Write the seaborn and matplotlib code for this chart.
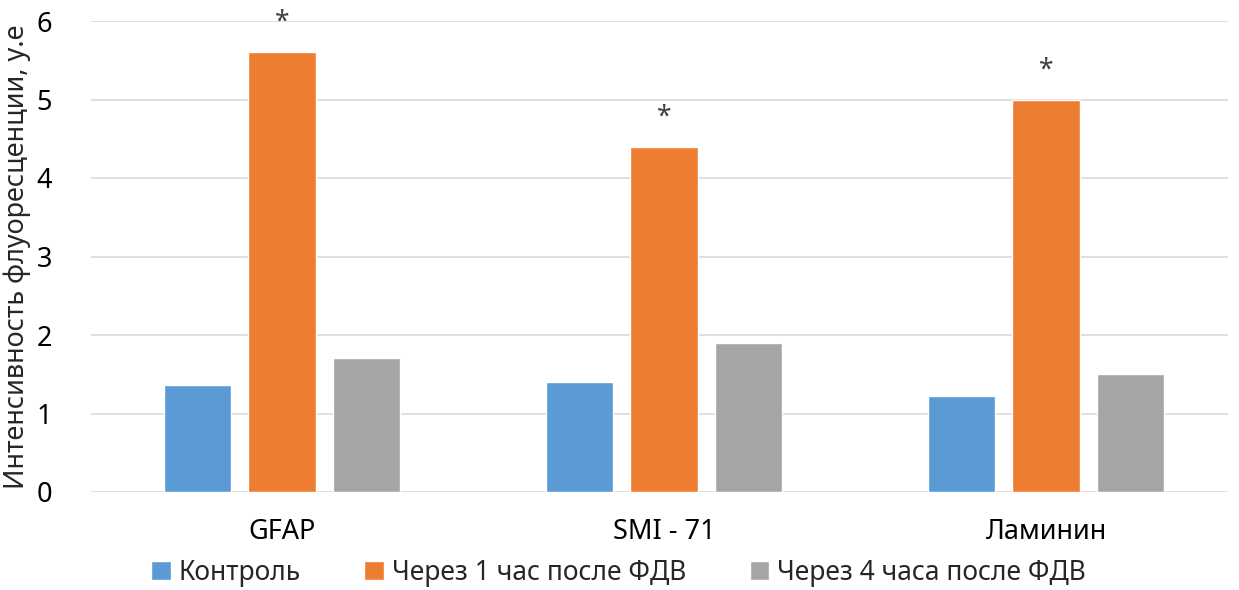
import pandas as pd
import matplotlib
matplotlib.use("Agg")
import matplotlib.pyplot as plt
import seaborn as sns

categories = ["GFAP", "SMI - 71", "Ламинин"]
series = ["Контроль", "Через 1 час после ФДВ", "Через 4 часа после ФДВ"]
control = [1.36, 1.40, 1.22]
after_1h = [5.60, 4.39, 5.00]
after_4h = [1.71, 1.90, 1.50]
stars = ["*", "*", "*"]

colors = ["#5B9BD5", "#ED7D31", "#A5A5A5"]

df = pd.DataFrame({
    "marker": categories * 3,
    "group": [s for s in series for _ in categories],
    "value": control + after_1h + after_4h,
})

sns.set_style("white")
plt.rcParams["font.family"] = ["Noto Sans", "DejaVu Sans"]

fig = plt.figure(figsize=(12.39, 5.90), dpi=100)
ax = fig.add_axes([91 / 1239, 98 / 590, 1137 / 1239, 471 / 590])

sns.barplot(data=df, x="marker", y="value", hue="group", hue_order=series,
            palette=colors, width=0.663, gap=0.2, saturation=1, ax=ax,
            errorbar=None)

ax.bar_label(ax.containers[1], labels=stars, padding=11, fontsize=19,
             color="#404040")

ax.set_xlim(-0.5, 2.476)
ax.set_ylim(0, 6)
ax.set_yticks(range(0, 7))
ax.yaxis.grid(True, color="#D9D9D9", linewidth=1.2)
ax.set_axisbelow(True)
for s in ax.spines.values():
    s.set_visible(False)
ax.tick_params(axis="both", length=0, colors="#000000")
ax.tick_params(axis="y", pad=28)
ax.tick_params(axis="x", pad=19)
ax.set_xlabel("")
ax.set_ylabel("Интенсивность флуоресценции, у.е", fontsize=19.5, labelpad=4)
for lbl in ax.get_xticklabels() + ax.get_yticklabels():
    lbl.set_fontsize(19.5)

ax.legend(loc="center", bbox_to_anchor=(0.464, -0.172), ncol=3,
          frameon=False, fontsize=19, handlelength=0.75, handleheight=0.75,
          handletextpad=0.3, columnspacing=2.4, borderpad=0.1)

fig.savefig("out.png", dpi=100, facecolor="white")
